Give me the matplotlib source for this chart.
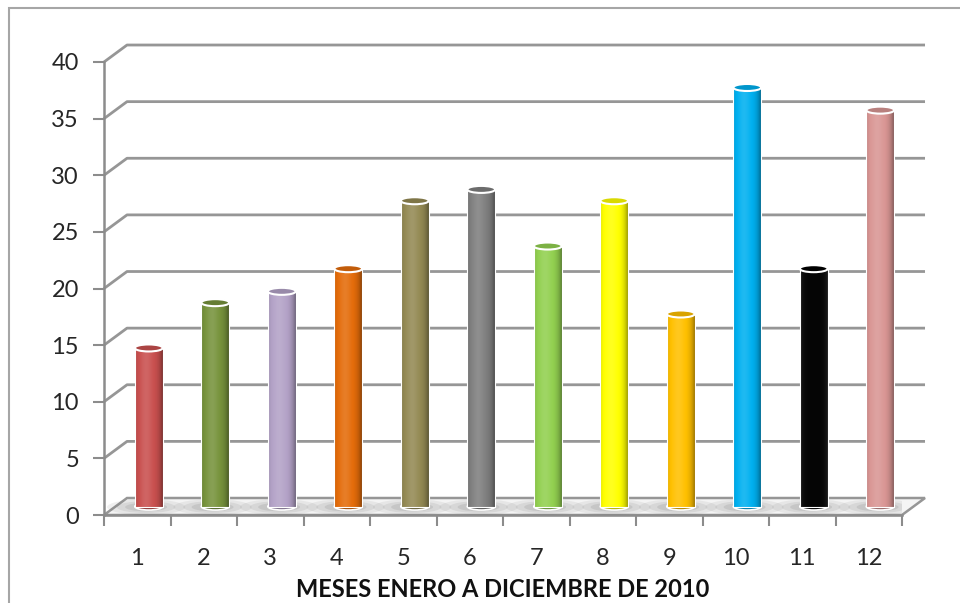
import numpy as np
import matplotlib
matplotlib.use("Agg")
import matplotlib.pyplot as plt
from matplotlib.patches import Ellipse, Polygon, Rectangle
from matplotlib.colors import to_rgb

#------------------------datos------------------------
meses = ['1', '2', '3', '4', '5', '6', '7', '8', '9', '10', '11', '12']
valores = [14, 18, 19, 21, 27, 28, 23, 27, 17, 37, 21, 35]
colores = ['#C9504F', '#77933C', '#B3A2C7', '#E46C0A', '#948A54', '#7F7F7F',
           '#92D050', '#FFFF00', '#FFC000', '#00B0F0', '#000000', '#D99694']
yticks = list(range(0, 45, 5))
titulo_x = 'MESES ENERO A DICIEMBRE DE 2010'

plt.rcParams['font.family'] = ['Lato', 'DejaVu Sans']

gris = '#8c8c8c'
dx, dy = 0.346, 1.5     # profundidad del efecto 3D (unidades de datos)
ancho = 0.42
alto_elipse = 0.62

fig = plt.figure(figsize=(9.6, 6.03), dpi=100)
ax = fig.add_axes([104/960, 88/603, 798/960, 453/603])

# marco de la figura
fig.patches.append(Rectangle((9/960, -0.1), 1.2, 1 - 8/603 + 0.1, transform=fig.transFigure,
                             fill=False, edgecolor='#a6a6a6', lw=1.5))

# --- lineas de division (pared del fondo) ---
for v in yticks[1:]:
    ax.plot([0.5, 0.5 + dx, 12.5 + dx], [v, v + dy, v + dy], color='#969696', lw=2,
            clip_on=False, zorder=1, solid_capstyle='butt')

# --- piso ---
piso = Polygon([(0.5, 0), (12.5, 0), (12.5 + dx, dy), (0.5 + dx, dy)], closed=True,
               facecolor='#f4f4f4', edgecolor='#969696', lw=1.8, clip_on=False, zorder=2)
ax.add_patch(piso)

# --- cilindros ---
x = np.arange(1, 13)
xc = x + dx/2
base = dy/2

t = np.linspace(0, 1, 120)
s = 0.12*np.exp(-((t - 0.4)/0.2)**2) - 0.4*np.abs((t - 0.42)/0.58)**4
s = np.clip(s, -0.6, 0.6)

barras = ax.bar(xc, valores, width=ancho, bottom=base, color=colores, zorder=4,
                clip_on=False, linewidth=0)

for b, c, v, xi in zip(barras, colores, valores, xc):
    rgb = np.array(to_rgb(c))
    img = np.where(s[:, None] > 0, rgb + (1 - rgb)*s[:, None], rgb*(1 + s[:, None]))
    if c == '#000000':
        img = np.tile(0.02 + 0.1*np.abs((t - 0.5)/0.5)[:, None]**4, (1, 3))
    im = ax.imshow(img[None, :, :], extent=(xi - ancho/2, xi + ancho/2, base, base + v),
                   aspect='auto', zorder=4.5, interpolation='bilinear')
    im.set_clip_path(b)

    # sombra sobre el piso
    for k, a in zip([2.8, 2.1, 1.5], [0.09, 0.11, 0.14]):
        ax.add_patch(Ellipse((xi - 0.04, base - 0.05), ancho*k, alto_elipse*1.2*k/1.5,
                             facecolor='#606060', alpha=a, edgecolor='none', zorder=3))
    # base
    ax.add_patch(Ellipse((xi, base), ancho, alto_elipse, facecolor=rgb*0.7,
                         edgecolor='white', lw=1.2, zorder=3.9, clip_on=False))
    # contorno
    ax.add_patch(Rectangle((xi - ancho/2, base), ancho, v, fill=False,
                           edgecolor='white', lw=0.8, zorder=4.8, clip_on=False))
    # tapa
    ax.add_patch(Ellipse((xi, base + v), ancho, alto_elipse, facecolor=rgb*0.85,
                         edgecolor='white', lw=1.5, zorder=6, clip_on=False))

# --- ejes ---
ax.set_xlim(0.5, 12.5)
ax.set_ylim(0, 40)
ax.patch.set_visible(False)
for lado in ['top', 'right']:
    ax.spines[lado].set_visible(False)
for lado in ['left', 'bottom']:
    ax.spines[lado].set_color(gris)
    ax.spines[lado].set_linewidth(1.8)
    ax.spines[lado].set_zorder(2.5)

ax.set_yticks(yticks)
ax.set_yticklabels([str(v) for v in yticks])
ax.set_xticks(np.arange(0.5, 13, 1))
ax.set_xticklabels([])
ax.set_xticks(x, minor=True)
ax.set_xticklabels(meses, minor=True)

ax.tick_params(which='major', length=8, width=1.5, color=gris, direction='out')
ax.tick_params(axis='y', labelsize=17, labelcolor='#262626', pad=10)
ax.tick_params(axis='x', which='minor', length=0, labelsize=17, labelcolor='#262626', pad=24)

ax.set_xlabel(titulo_x, fontsize=17, fontweight='bold', color='#111111', labelpad=6.5)

fig.savefig('out.png', dpi=100)
